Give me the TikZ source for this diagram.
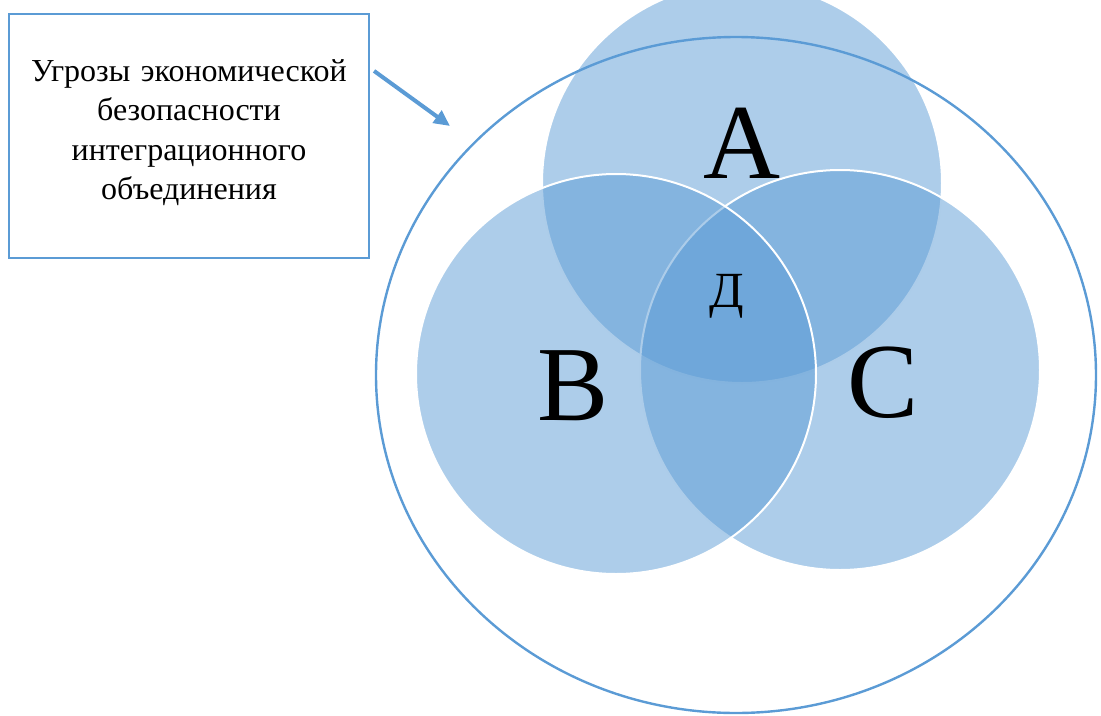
\documentclass[tikz,border=0pt]{standalone}
\usepackage{fontspec}
\setmainfont{Liberation Serif}
\usetikzlibrary{shapes.geometric, arrows.meta, positioning}
\definecolor{myblue}{RGB}{91,155,213}
\tikzset{
  threatbox/.style={rectangle, draw=myblue, line width=1.6pt,
    minimum width=270pt, minimum height=183pt, text width=250pt,
    align=center, font=\fontsize{24}{29.5}\selectfont},
  setcircle/.style={circle, fill=myblue, fill opacity=0.5,
    draw=white, line width=1.5pt, minimum size=300pt, inner sep=0pt},
  outerset/.style={ellipse, draw=myblue, line width=1.8pt,
    minimum width=540pt, minimum height=507pt, inner sep=0pt},
  biglabel/.style={font=\fontsize{80}{80}\selectfont, inner sep=0pt},
  smalllabel/.style={font=\fontsize{38}{38}\selectfont, inner sep=0pt},
  arrow/.style={-{Triangle[length=12pt, width=11pt]}, line width=3pt, color=myblue}
}
\begin{document}
\begin{tikzpicture}[x=0.75pt, y=-0.75pt]
  \useasboundingbox (0,0) rectangle (1101,715);
  \node[threatbox] (threat) at (189,136)
    {Угрозы экономической\\безопасности\\интеграционного\\объединения\\[-20pt]\mbox{}};
  \node[setcircle] (setA) at (742,183) {};
  \node[setcircle] (setC) at (840,370) {};
  \node[setcircle] (setB) at (616,374) {};
  \node[biglabel] (labA) at (742,143) {A};
  \node[biglabel] (labB) at (573,386) {B};
  \node[biglabel] (labC) at (883,383) {C};
  \node[smalllabel] (labD) at (727,296) {Д};
  \node[outerset] (outer) at (736,375) {};
  \coordinate (tip) at (450,126);
  \draw[arrow] ([shift={(4,58)}]threat.north east) -- (tip);
\end{tikzpicture}
\end{document}
